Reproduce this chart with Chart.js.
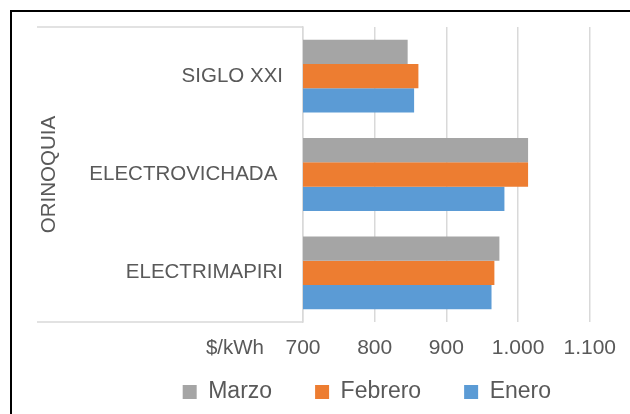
<!DOCTYPE html>
<html>
<head>
<meta charset="utf-8">
<script src="https://cdn.jsdelivr.net/npm/chart.js@4.4.0/dist/chart.umd.min.js"></script>
<style>
    html, body { margin: 0; padding: 0; background: #fff; overflow: hidden; }
    #frame { position: absolute; left: 10px; top: 10px; width: 700px; height: 480px; border: 2px solid #000; }
    #wrap { position: absolute; left: 0; top: 0; width: 618px; height: 440px; }
</style>
</head>
<body>
<div id="frame"><div id="wrap"><canvas id="tarifas"></canvas></div></div>
<script>
const categories = ['SIGLO XXI', 'ELECTROVICHADA ', 'ELECTRIMAPIRI'];
const groupLabel = 'ORINOQUIA';
const marzo = [846, 1014, 974];
const febrero = [861, 1014, 967];
const enero = [855, 981, 963];
const xTickLabels = ['700', '800', '900', '1.000', '1.100'];
const unitLabel = '$/kWh';

const textColor = '#595959';
const gridColor = '#D9D9D9';
const fontFamily = '"Liberation Sans", Arial, sans-serif';

// extra bits of the Excel multi-level axis: group label, unit, boundary lines
const axisExtras = {
    id: 'axisExtras',
    afterLayout(chart) {
        // legend sits closer to the axis than its own padding allows
        const lg = chart.legend;
        const dy = chart.chartArea.bottom + 15.5 - lg.top;
        lg.top += dy;
        lg.bottom += dy;
        lg.left += 2;
        lg.right += 2;
    },
    afterDraw(chart) {
        const { ctx, chartArea, scales: { x, y } } = chart;
        ctx.save();
        ctx.strokeStyle = gridColor;
        ctx.lineWidth = 1.5;
        ctx.beginPath();
        [y.top, y.bottom].forEach(py => {
            ctx.moveTo(25, py);
            ctx.lineTo(chartArea.left, py);
        });
        ctx.stroke();

        ctx.fillStyle = textColor;
        ctx.font = '20.5px ' + fontFamily;
        ctx.textBaseline = 'middle';
        ctx.textAlign = 'right';
        ctx.fillText(unitLabel, x.getPixelForValue(700) - 39, x.top + 14 + 12.6);

        ctx.translate(37, (y.top + y.bottom) / 2);
        ctx.rotate(-Math.PI / 2);
        ctx.textAlign = 'center';
        ctx.fillText(groupLabel, 0, 0);
        ctx.restore();
    }
};

new Chart(document.getElementById('tarifas'), {
    type: 'bar',
    data: {
        labels: categories,
        datasets: [
            { label: 'Marzo', data: marzo, backgroundColor: '#A5A5A5' },
            { label: 'Febrero', data: febrero, backgroundColor: '#ED7D31' },
            { label: 'Enero', data: enero, backgroundColor: '#5B9BD5' }
        ]
    },
    options: {
        indexAxis: 'y',
        responsive: true,
        maintainAspectRatio: false,
        animation: false,
        categoryPercentage: 0.74,
        barPercentage: 1,
        layout: {
            padding: { left: 0, right: 38, top: 15, bottom: 0.8 }
        },
        scales: {
            x: {
                min: 700,
                max: 1100,
                ticks: {
                    stepSize: 100,
                    padding: 14,
                    color: textColor,
                    font: { family: fontFamily, size: 21 },
                    callback: (value, index) => xTickLabels[index]
                },
                grid: { color: gridColor, lineWidth: 1.5, drawTicks: false },
                border: { display: false }
            },
            y: {
                ticks: {
                    padding: 0,
                    color: textColor,
                    font: { family: fontFamily, size: 20.5 }
                },
                grid: { display: false, drawTicks: true, tickLength: 20 },
                border: { display: true, color: gridColor, width: 1.5 },
                afterFit: (scale) => { scale.width = 291; }
            }
        },
        plugins: {
            legend: {
                position: 'bottom',
                align: 'end',
                labels: {
                    boxWidth: 14,
                    boxHeight: 14,
                    padding: 43,
                    color: textColor,
                    font: { family: fontFamily, size: 23 }
                }
            },
            tooltip: { enabled: false }
        }
    },
    plugins: [axisExtras]
});
</script>
</body>
</html>
